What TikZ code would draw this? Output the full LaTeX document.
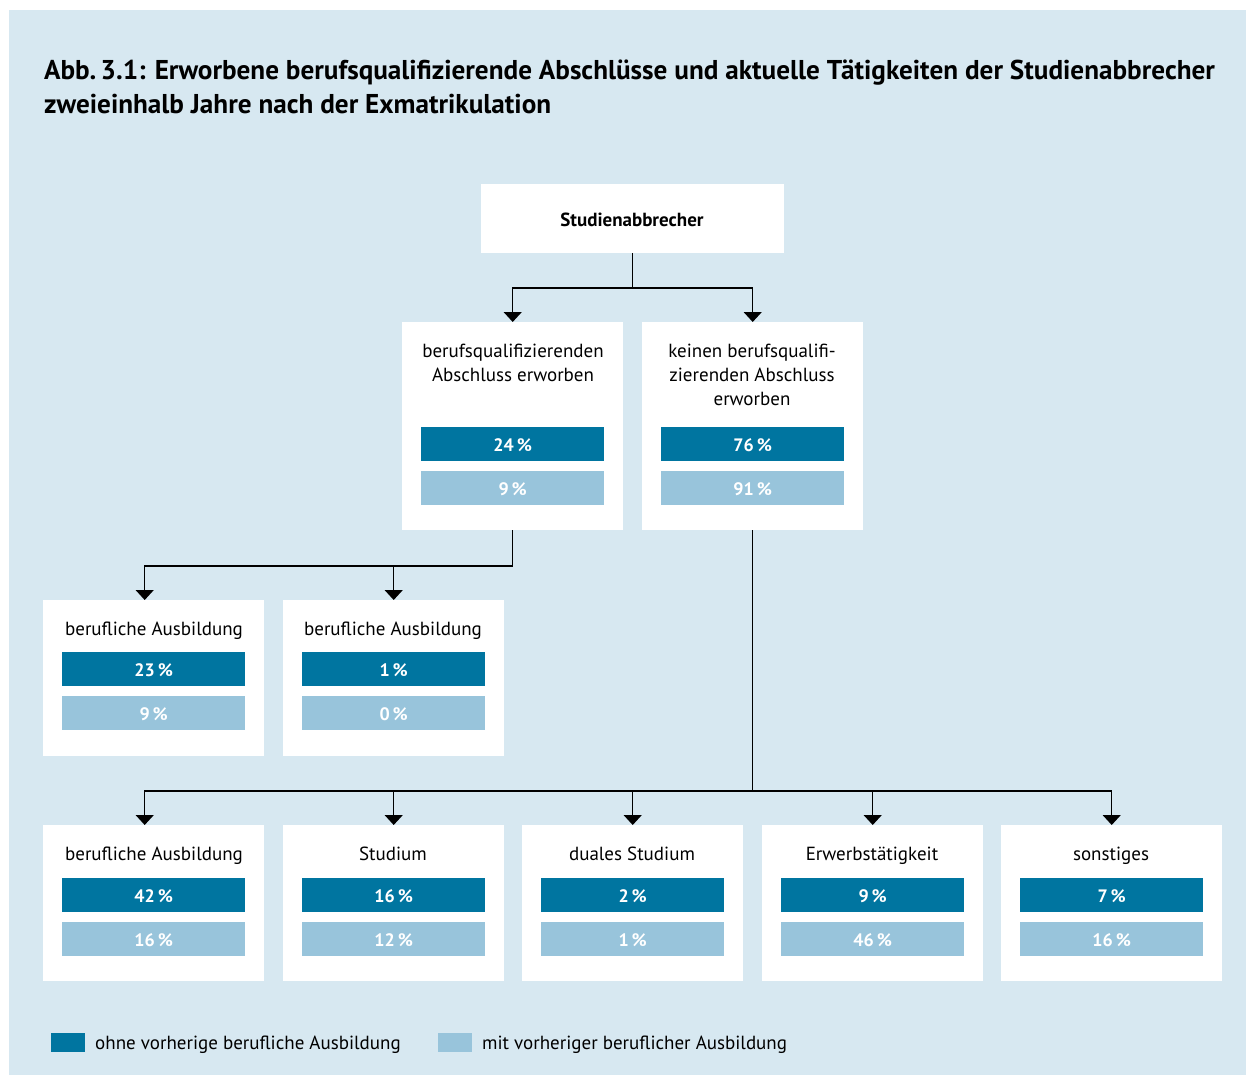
\documentclass[tikz,border=0pt]{standalone}
\usepackage{fontspec}
\setmainfont{PT Sans}
\usetikzlibrary{arrows.meta}
\definecolor{panel}{HTML}{D7E8F1}
\definecolor{darkbar}{HTML}{0075A0}
\definecolor{lightbar}{HTML}{98C4DB}
\tikzset{
  x=1pt, y=-1pt,
  box/.style={fill=white, draw=none, anchor=north west, inner sep=0pt},
  lbl/.style={font=\fontsize{19}{24}\selectfont, align=center, inner sep=0pt, text=black},
  bar/.style={anchor=north west, minimum width=183pt, minimum height=34pt, inner sep=0pt, text=white, text height=15.4pt, text depth=0pt, font=\fontsize{18}{20}\selectfont\bfseries},
  dbar/.style={bar, fill=darkbar},
  lbar/.style={bar, fill=lightbar},
  conn/.style={line width=1.5pt, draw=black},
  arr/.style={conn, -{Triangle[width=18pt,length=10pt]}},
}
\begin{document}
\begin{tikzpicture}
\useasboundingbox (0,0) rectangle (1246,1075);
\fill[white] (0,0) rectangle (1246,1075);
\fill[panel] (9,10) rectangle (1246,1075);
% title
\node[anchor=base west, inner sep=0pt, font=\fontsize{27.2}{34}\selectfont\bfseries] (t1) at (44,79.5) {Abb.\,3.1: Erworbene berufsqualifizierende Abschlüsse und aktuelle Tätigkeiten der Studienabbrecher};
\node[anchor=base west, inner sep=0pt, font=\fontsize{27.2}{34}\selectfont\bfseries] (t2) at (44,113.5) {zweieinhalb Jahre nach der Exmatrikulation};
% top
\node[box, minimum width=303pt, minimum height=69pt] (top) at (481,184) {};
\node[lbl, anchor=base, font=\fontsize{19}{24}\selectfont\bfseries] (toplbl) at (632,226.5) {Studienabbrecher};
% level 2
\node[box, minimum width=221pt, minimum height=208pt] (b2a) at (402,322) {};
\node[box, minimum width=221pt, minimum height=208pt] (b2b) at (642,322) {};
\node[lbl, anchor=north] (l2a) at (513,344) {berufsqualifizierenden\\Abschluss erworben};
\node[lbl, anchor=north] (l2b) at (752,344) {keinen berufsqualifi-\\zierenden Abschluss\\erworben};
\node[dbar] (d2a) at (421,427) {24\,\%};
\node[lbar] (g2a) at (421,471) {9\,\%};
\node[dbar] (d2b) at (661,427) {76\,\%};
\node[lbar] (g2b) at (661,471) {91\,\%};
% level 3
\node[box, minimum width=221pt, minimum height=156pt] (b3a) at (43,600) {};
\node[box, minimum width=221pt, minimum height=156pt] (b3b) at (283,600) {};
\node[lbl, anchor=base] (l3a) at (154,635) {berufliche Ausbildung};
\node[lbl, anchor=base] (l3b) at (393,635) {berufliche Ausbildung};
\node[dbar] (d3a) at (62,652) {23\,\%};
\node[lbar] (g3a) at (62,696) {9\,\%};
\node[dbar] (d3b) at (302,652) {1\,\%};
\node[lbar] (g3b) at (302,696) {0\,\%};
% level 4
\node[box, minimum width=221pt, minimum height=156pt] (b4a) at (43,825) {};
\node[box, minimum width=221pt, minimum height=156pt] (b4b) at (283,825) {};
\node[box, minimum width=221pt, minimum height=156pt] (b4c) at (522,825) {};
\node[box, minimum width=221pt, minimum height=156pt] (b4d) at (762,825) {};
\node[box, minimum width=221pt, minimum height=156pt] (b4e) at (1001,825) {};
\node[lbl, anchor=base] (l4a) at (154,860) {berufliche Ausbildung};
\node[lbl, anchor=base] (l4b) at (393,860) {Studium};
\node[lbl, anchor=base] (l4c) at (632,860) {duales Studium};
\node[lbl, anchor=base] (l4d) at (872,860) {Erwerbstätigkeit};
\node[lbl, anchor=base] (l4e) at (1111,860) {sonstiges};
\node[dbar] (d4a) at (62,878) {42\,\%};
\node[lbar] (g4a) at (62,922) {16\,\%};
\node[dbar] (d4b) at (302,878) {16\,\%};
\node[lbar] (g4b) at (302,922) {12\,\%};
\node[dbar] (d4c) at (541,878) {2\,\%};
\node[lbar] (g4c) at (541,922) {1\,\%};
\node[dbar] (d4d) at (781,878) {9\,\%};
\node[lbar] (g4d) at (781,922) {46\,\%};
\node[dbar] (d4e) at (1020,878) {7\,\%};
\node[lbar] (g4e) at (1020,922) {16\,\%};
% connectors
\coordinate (j1) at (top.south |- 0,288);
\draw[conn] (top.south) -- (j1);
\draw[arr] (j1) -| (b2a.north);
\draw[arr] (j1) -| (b2b.north);
\coordinate (j2) at (b2a.south |- 0,566);
\draw[conn] (b2a.south) -- (j2);
\draw[arr] (j2) -| ([xshift=-9pt]b3a.north);
\draw[arr] (j2) -| (b3b.north);
\coordinate (j3) at (b2b.south |- 0,791);
\draw[conn] (b2b.south) -- (j3);
\draw[arr] (j3) -| ([xshift=-9pt]b4a.north);
\draw[arr] (j3) -| (b4b.north);
\draw[arr] (j3) -| (b4c.north);
\draw[arr] (j3) -| (b4d.north);
\draw[arr] (j3) -| (b4e.north);
% legend
\node[fill=darkbar, anchor=north west, minimum width=34pt, minimum height=19pt, inner sep=0pt] (k1) at (51,1033) {};
\node[lbl, anchor=base west] (k1t) at (95,1049.5) {ohne vorherige berufliche Ausbildung};
\node[fill=lightbar, anchor=north west, minimum width=34pt, minimum height=19pt, inner sep=0pt] (k2) at (438,1033) {};
\node[lbl, anchor=base west] (k2t) at (482,1049.5) {mit vorheriger beruflicher Ausbildung};
\end{tikzpicture}
\end{document}
